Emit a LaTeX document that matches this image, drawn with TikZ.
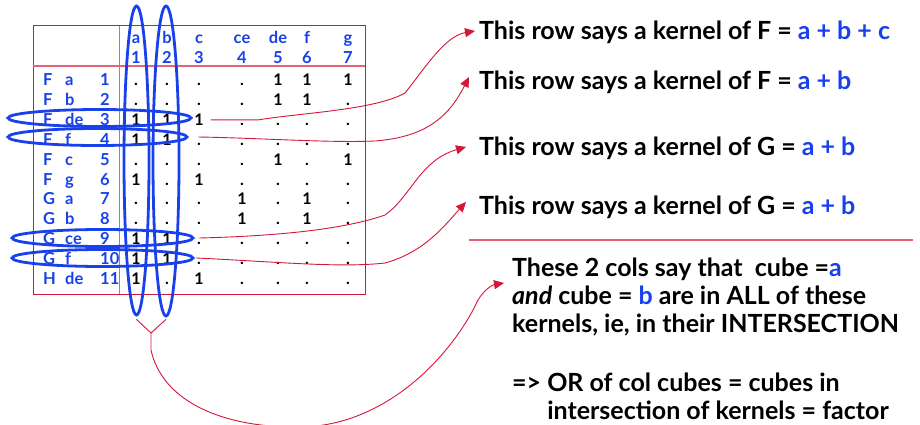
\documentclass[tikz,border=0pt]{standalone}
\usepackage{fontspec}
\setmainfont{Lato}
\usetikzlibrary{shapes.geometric,arrows.meta}
\definecolor{kblue}{RGB}{25,65,235}
\definecolor{kred}{RGB}{212,22,55}
\definecolor{kpink}{RGB}{225,100,120}

\begin{document}
\begin{tikzpicture}[x=1pt, y=-1pt,
  lbl/.style={text=kblue, font=\fontsize{16.5}{16.5}\selectfont\bfseries, inner sep=0pt, anchor=base},
  cell/.style={font=\fontsize{16}{16}\selectfont\bfseries, inner sep=0pt, anchor=base},
  ring/.style={ellipse, draw=kblue, line width=2.8pt, inner sep=0pt},
  link/.style={draw=kred, line width=0.9pt, -{Triangle[length=10pt,width=9pt]}},
  say/.style={anchor=base west, font=\fontsize{25}{28}\selectfont\bfseries, inner sep=0pt}]
\useasboundingbox (0,0) rectangle (920,425);

\draw[kred, line width=1pt] (33,26) rectangle (365,294);
\draw[kpink, line width=1.5pt] (33,66) -- (365,66);
\draw[kpink, line width=1pt] (119,26) -- (119,294);

\foreach \h/\x [count=\c] in {a/136,b/167,c/199,ce/242,de/278,f/307,g/348} {
  \node[lbl] (hd\c) at (\x,44) {\h};
  \node[lbl] (hn\c) at (\x,64) {\c};
}

\foreach \f/\k/\vals [count=\r] in {F/a/{.,.,.,.,1,1,1}, F/b/{.,.,.,.,1,1,.},
    F/de/{1,1,1,.,.,.,.}, F/f/{1,1,.,.,.,.,.}, F/c/{.,.,.,.,1,.,1},
    F/g/{1,.,1,.,.,.,.}, G/a/{.,.,.,1,.,1,.}, G/b/{.,.,.,1,.,1,.},
    G/ce/{1,1,.,.,.,.,.}, G/f/{1,1,.,.,.,.,.}, H/de/{1,.,1,.,.,.,.}} {
  \pgfmathsetmacro\yb{80+(\r-1)*19.8+6}
  \node[lbl, anchor=base west] (rf\r) at (43,\yb) {\f};
  \node[lbl, anchor=base west] (rk\r) at (65,\yb) {\k};
  \node[lbl, anchor=base west] (rn\r) at (100,\yb) {\r};
  \foreach \v [count=\c] in \vals
    \node[cell] (c\r-\c) at (hd\c |- 0,\yb) {\v};
}

\node[ring, minimum width=25pt, minimum height=309pt] (ringa) at (136.5,160.5) {};
\node[ring, minimum width=26pt, minimum height=310pt] (ringb) at (166,161) {};
\node[ring, minimum width=183pt, minimum height=17pt] (ring3) at (99.5,118) {};
\node[ring, minimum width=179pt, minimum height=17pt] (ring4) at (97.5,137) {};
\node[ring, minimum width=181pt, minimum height=17pt] (ring9) at (102.5,238) {};
\node[ring, minimum width=181pt, minimum height=17pt] (ring10) at (102.5,258) {};

\node[say] (t1) at (479,40) {This row says a kernel of F = \textcolor{kblue}{a + b + c}};
\node[say] (t2) at (479,90) {This row says a kernel of F = \textcolor{kblue}{a + b}};
\node[say] (t3) at (479,155) {This row says a kernel of G = \textcolor{kblue}{a + b}};
\node[say] (t4) at (479,214) {This row says a kernel of G = \textcolor{kblue}{a + b}};
\draw[kpink, line width=1.2pt] (469,240) -- (913,240);
\node[say, anchor=north west, align=left] (blk) at (512,258) {These 2 cols say that\ \ cube =\textcolor{kblue}{a}\\
  \textit{and} cube = \textcolor{kblue}{b} are in ALL of these\\
  kernels, ie, in their INTERSECTION\\[31pt]
  => OR of col cubes = cubes in\\
  \phantom{=> }intersection of kernels = factor};

\draw[link] ([xshift=7pt]c3-3.east) -- ++(48,0) .. controls (300,113) and (375,110) .. (405,93)
  .. controls (425,68) and (445,36) .. ([shift={(-4pt,9pt)}]t1.base west);
\draw[link] ([xshift=10pt]ring4.east) .. controls (260,138) and (330,143) .. (375,141)
  .. controls (425,137) and (448,118) .. ([shift={(-10pt,13pt)}]t2.base west);
\draw[link] ([xshift=5pt]ring9.east) .. controls (280,236) and (345,229) .. (385,215)
  .. controls (410,198) and (420,160) .. ([shift={(-13pt,8pt)}]t3.base west);
\draw[link] ([xshift=2pt]ring10.east) .. controls (280,262) and (340,268) .. (385,263)
  .. controls (425,252) and (445,225) .. ([shift={(-13pt,12pt)}]t4.base west);

\coordinate (fork) at (151,333);
\coordinate (blkin) at (504,283);
\draw[kred, line width=0.9pt] ([yshift=-3pt]ringa.south) -- (fork) -- ([yshift=-2pt]ringb.south);
\draw[link] (fork) -- ++(0,17) .. controls (162,400) and (220,428) .. (300,427)
  .. controls (390,426) and (455,350) .. (478,300) .. controls (484,290) and (492,285) .. (blkin);
\end{tikzpicture}
\end{document}
